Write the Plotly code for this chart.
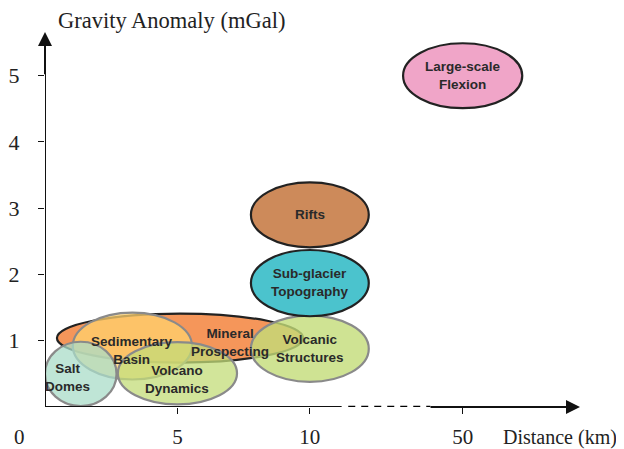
import plotly.graph_objects as go

# ---- data ----
names = ["Mineral Prospecting", "Sedimentary Basin", "Salt Domes", "Volcano Dynamics",
         "Volcanic Structures", "Sub-glacier Topography", "Rifts", "Large-scale Flexion"]
labels = ["Mineral<br>Prospecting", "Sedimentary<br>Basin", "Salt<br>Domes", "Volcano<br>Dynamics",
          "Volcanic<br>Structures", "Sub-glacier<br>Topography", "Rifts", "Large-scale<br>Flexion"]
center_km = [5.1, 3.3, 1.35, 5.0, 10.0, 10.0, 10.0, 50.0]
center_mgal = [1.04, 0.92, 0.50, 0.51, 0.88, 1.87, 2.90, 5.0]
width_km = [9.3, 4.5, 2.7, 4.5, 4.45, 4.45, 4.45, 4.5]
height_mgal = [0.74, 1.01, 0.97, 0.94, 1.0, 1.0, 0.98, 0.98]
label_km = [7.0, 3.3, 0.85, 5.0, 10.0, 10.0, 10.0, 50.0]
label_mgal = [0.98, 0.85, 0.45, 0.41, 0.88, 1.88, 2.90, 5.0]
fills = ["rgba(245,150,90,1)", "rgba(255,210,110,0.75)", "rgba(170,220,200,0.75)",
         "rgba(195,220,120,0.75)", "rgba(195,220,120,0.8)", "rgba(75,195,205,1)",
         "rgba(205,138,90,1)", "rgba(240,165,200,1)"]
borders = ["#222222", "#8a8a8a", "#8a8a8a", "#8a8a8a", "#8a8a8a", "#222222", "#222222", "#222222"]

x_ticks_km = [5, 10, 50]
y_ticks = [1, 2, 3, 4, 5]

def xpos(d):
    # broken axis: linear up to 12 km, then 50 km placed after the gap
    return d if d <= 12 else 15.77 + (d - 50) * 0.1

fig = go.Figure()
shapes = []
for i in range(len(names)):
    cx = xpos(center_km[i])
    cy = center_mgal[i]
    w = width_km[i]
    h = height_mgal[i]
    shapes.append(dict(type="circle", xref="x", yref="y",
                       x0=cx - w / 2, x1=cx + w / 2, y0=cy - h / 2, y1=cy + h / 2,
                       fillcolor=fills[i], line=dict(color=borders[i], width=2.2),
                       layer="above"))

# axes lines
shapes.append(dict(type="line", xref="x", yref="y", x0=-0.2, x1=11.2, y0=0, y1=0,
                   line=dict(color="#111", width=2)))
shapes.append(dict(type="line", xref="x", yref="y", x0=11.45, x1=14.55, y0=0, y1=0,
                   line=dict(color="#000", width=2.6, dash="7px,6px")))
shapes.append(dict(type="line", xref="x", yref="y", x0=0, x1=0, y0=-0.08, y1=5.4,
                   line=dict(color="#111", width=2)))

fig.update_layout(shapes=shapes)
fig.add_trace(go.Scatter(x=[0], y=[0], mode="markers", marker=dict(opacity=0),
                         hoverinfo="skip", showlegend=False))

ann = []
for i in range(len(names)):
    ann.append(dict(x=xpos(label_km[i]), y=label_mgal[i], xref="x", yref="y",
                    text="<b>" + labels[i] + "</b>", showarrow=False,
                    font=dict(family="Liberation Sans", size=13.5, color="#2a2a2a")))
# x axis arrow
ann.append(dict(x=20.2, y=0, ax=14.5, ay=0, xref="x", yref="y", axref="x", ayref="y",
                showarrow=True, arrowhead=2, arrowsize=1.4, arrowwidth=2, arrowcolor="#111", text=""))
# y axis arrow
ann.append(dict(x=0, y=5.66, ax=0, ay=5.0, xref="x", yref="y", axref="x", ayref="y",
                showarrow=True, arrowhead=2, arrowsize=1.4, arrowwidth=2, arrowcolor="#111", text=""))
ann.append(dict(x=0, y=0, xref="x", yref="y", text="0", showarrow=False, xshift=-25.5, yshift=-30,
                font=dict(family="Liberation Serif", size=21, color="#222")))
ann.append(dict(x=1, y=0, xref="paper", yref="y", text="Distance (km)", showarrow=False,
                xanchor="right", xshift=39, yshift=-30,
                font=dict(family="Liberation Serif", size=20, color="#222")))
ann.append(dict(x=0, y=5.66, xref="x", yref="y", text="Gravity Anomaly (mGal)", showarrow=False,
                xanchor="left", xshift=12, yshift=12, borderpad=0,
                font=dict(family="Liberation Serif", size=22.5, color="#222")))
fig.update_layout(annotations=ann)

fig.update_layout(
    width=616, height=441,
    margin=dict(l=37, r=44, t=24, b=42),
    paper_bgcolor="white", plot_bgcolor="white",
    showlegend=False,
    xaxis=dict(range=[0, 20.2], showgrid=False, zeroline=False, showline=False, automargin=False,
               tickvals=[xpos(v) for v in x_ticks_km], ticktext=[str(v) for v in x_ticks_km],
               ticks="outside", ticklen=6, tickwidth=1.2, tickcolor="#111",
               ticklabelstandoff=5,
               tickfont=dict(family="Liberation Serif", size=21, color="#222")),
    yaxis=dict(range=[0, 5.66], showgrid=False, zeroline=False, showline=False, automargin=False,
               tickvals=y_ticks, ticktext=[str(v) for v in y_ticks],
               ticks="outside", ticklen=6, tickwidth=1.2, tickcolor="#111",
               ticklabelstandoff=14,
               tickfont=dict(family="Liberation Serif", size=22, color="#222")),
)

fig.write_html("out.html")
